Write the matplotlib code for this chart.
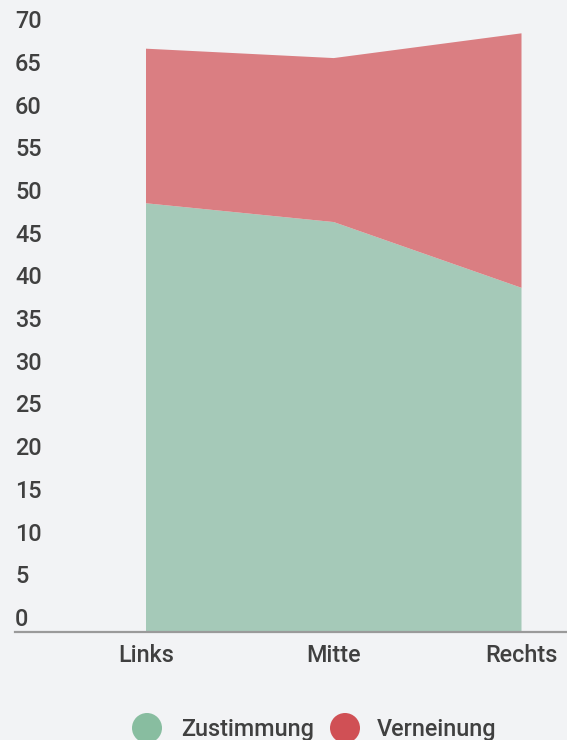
import matplotlib
matplotlib.use("Agg")
import matplotlib.pyplot as plt
from matplotlib.patches import Circle

categories = ["Links", "Mitte", "Rechts"]
zustimmung = [50.2, 48.0, 40.3]
verneinung = [18.1, 19.2, 29.8]
yticks = list(range(0, 75, 5))
series_names = ["Zustimmung", "Verneinung"]

W, H = 567, 740
BG = "#f2f3f5"
TXT = "#404040"
FS = 16.8
FW = "medium"
plt.rcParams['font.family'] = ['Roboto', 'DejaVu Sans']

fig = plt.figure(figsize=(W / 100, H / 100), dpi=100, facecolor=BG)

# axes in pixel geometry
ax_left, ax_right = 15, 567
ax_bottom, ax_top = 632, 0
ax = fig.add_axes([ax_left / W, (H - ax_bottom) / H, (ax_right - ax_left) / W, (ax_bottom - ax_top) / H])
ax.set_facecolor(BG)

x = list(range(len(categories)))
ax.stackplot(x, zustimmung, verneinung, colors=["#a5c9b8", "#da7e82"], linewidth=0)

spacing = 187.75
ax.set_xlim(-(146 - ax_left) / spacing, 2 + (ax_right - 521.5) / spacing)
ax.set_ylim(0, 74)

for s in ax.spines.values():
    s.set_visible(False)
ax.set_xticks([])
ax.set_yticks([])
ax.axhline(0, color="#9a9a9a", lw=1.6, clip_on=False)

off = 6 * 72 / 100
for v in yticks:
    ax.annotate(str(v), xy=(0, v), xycoords=("axes fraction", "data"),
                xytext=(0, off), textcoords="offset points",
                ha="left", va="baseline", fontsize=FS, color=TXT, fontweight=FW)

# overlay in pixel coords
ov = fig.add_axes([0, 0, 1, 1], facecolor="none")
ov.set_xlim(0, W)
ov.set_ylim(H, 0)
ov.axis("off")

for xi, c in zip(x, categories):
    px = 146 + xi * spacing
    ov.text(px, 662, c, ha="center", va="baseline", fontsize=FS, color=TXT, fontweight=FW)

leg = [(147, 181, "#88bda0"), (345, 377, "#d05055")]
for (cx, tx, col), name in zip(leg, series_names):
    ov.add_patch(Circle((cx, 728), 15, color=col, lw=0))
    ov.text(tx, 736, name, ha="left", va="baseline", fontsize=FS, color=TXT, fontweight=FW)

fig.savefig("out.png", dpi=100, facecolor=BG)
